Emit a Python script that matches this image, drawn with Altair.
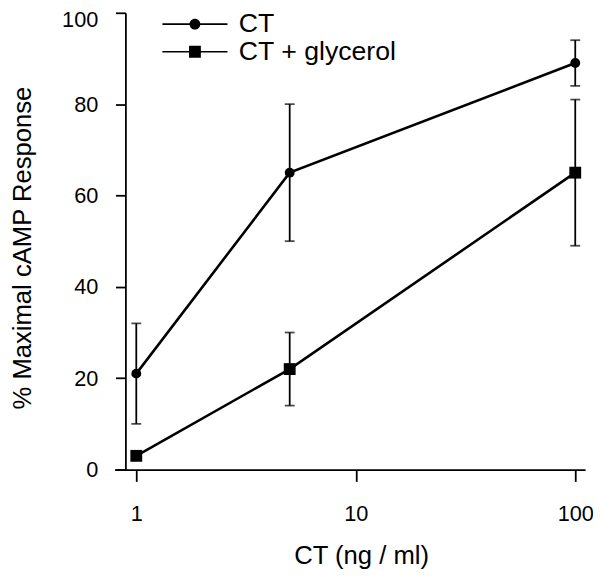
import altair as alt
import pandas as pd

series_names = ["CT", "CT + glycerol"]
conc = [1, 5, 100]
ct_mean = [21, 65, 89]
ct_lo = [10, 50, 84]
ct_hi = [32, 80, 94]
gly_mean = [3, 22, 65]
gly_lo = [3, 14, 49]
gly_hi = [3, 30, 81]

rows = []
for i, c in enumerate(conc):
    rows.append({"series": series_names[0], "conc": c, "mean": ct_mean[i], "lo": ct_lo[i], "hi": ct_hi[i]})
for i, c in enumerate(conc):
    rows.append({"series": series_names[1], "conc": c, "mean": gly_mean[i], "lo": gly_lo[i], "hi": gly_hi[i]})
df = pd.DataFrame(rows)

FONT = "Liberation Sans"

xenc = alt.X(
    "conc:Q",
    scale=alt.Scale(type="log", domain=[0.796, 110.9], nice=False),
    axis=alt.Axis(values=[1, 10, 100], title="CT (ng / ml)", tickSize=12,
                  labelPadding=23, titleX=250, titleY=87, titleAlign="center",
                  titleBaseline="middle", labelFlush=False, labelOverlap=False),
)
yenc = alt.Y(
    "mean:Q",
    scale=alt.Scale(domain=[0, 100], nice=False),
    axis=alt.Axis(values=[0, 20, 40, 60, 80, 100], title="% Maximal cAMP Response",
                  offset=-11, tickSize=10, labelPadding=18,
                  labelOffset=alt.condition("datum.value == 100", alt.value(7), alt.value(0)),
                  titleX=-96, titleY=238, titleBaseline="alphabetic", titleAlign="center",
                  labelFlush=False, labelOverlap=False),
)

base = alt.Chart(df)

line = base.mark_line(color="black", strokeWidth=2.6).encode(x=xenc, y=yenc, detail="series:N")
rules = base.mark_rule(color="black", strokeWidth=1.8).encode(x="conc:Q", y="lo:Q", y2="hi:Q")
cap_lo = base.mark_tick(orient="horizontal", size=10, thickness=1.8, color="black").encode(x="conc:Q", y="lo:Q")
cap_hi = base.mark_tick(orient="horizontal", size=10, thickness=1.8, color="black").encode(x="conc:Q", y="hi:Q")
pts_ct = base.transform_filter(alt.datum.series == series_names[0]).mark_point(
    shape="circle", filled=True, color="black", size=100, opacity=1).encode(x="conc:Q", y="mean:Q")
pts_gly = base.transform_filter(alt.datum.series == series_names[1]).mark_point(
    shape="square", filled=True, color="black", size=144, opacity=1).encode(x="conc:Q", y="mean:Q")

# legend symbols: a thin filled bar (the line) plus the marker
path_ct = "M-6,-0.15L6,-0.15L6,0.15L-6,0.15Z M-1,0A1,1,0,1,1,1,0A1,1,0,1,1,-1,0Z"
path_gly = "M-6,-0.15L6,-0.15L6,0.15L-6,0.15Z M-1.09,-1.09L1.09,-1.09L1.09,1.09L-1.09,1.09Z"

legend_layer = base.mark_point(filled=True, fill="black", opacity=0).encode(
    x="conc:Q", y="mean:Q",
    shape=alt.Shape("series:N",
                    scale=alt.Scale(domain=series_names, range=[path_ct, path_gly]),
                    legend=alt.Legend(title=None, orient="none", legendX=68, legendY=-2,
                                      symbolSize=121, symbolFillColor="black",
                                      symbolOpacity=1, labelFontSize=27, labelFont=FONT,
                                      labelColor="black", labelOffset=31, rowPadding=0,
                                      labelLimit=400, padding=0)),
)

chart = alt.layer(line, rules, cap_lo, cap_hi, pts_ct, pts_gly, legend_layer).properties(
    width=477, height=463,
    autosize=alt.AutoSizeParams(type="none"),
    padding={"left": 108, "top": 1, "right": 8, "bottom": 100},
).configure_view(stroke=None).configure_axis(
    grid=False, domainColor="black", tickColor="black", domainWidth=1.8, tickWidth=1.8,
    labelColor="black", titleColor="black", labelFont=FONT, titleFont=FONT,
    labelFontSize=22, titleFontSize=26, titleFontWeight="normal",
)

chart.save("out.html", embed_options={"renderer": "svg", "actions": False})
